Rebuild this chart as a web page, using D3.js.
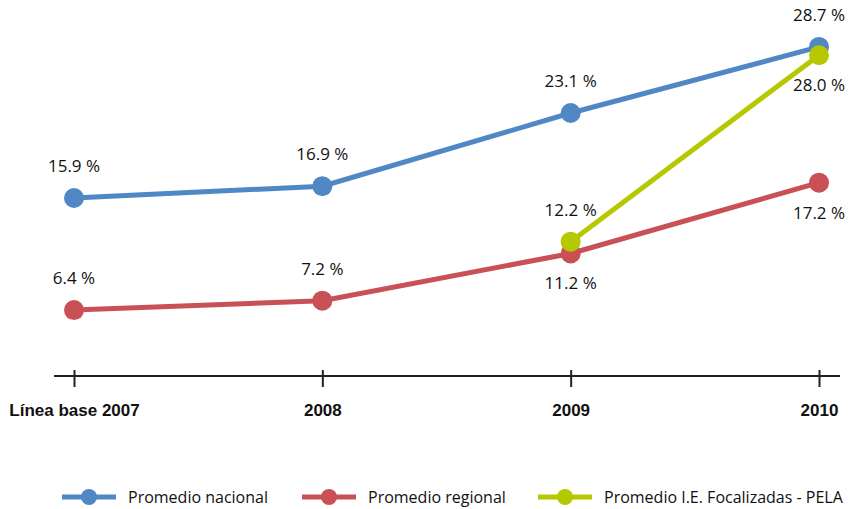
<!DOCTYPE html>
<html>
<head>
<meta charset="utf-8">
<script src="https://cdn.jsdelivr.net/npm/d3@7"></script>
<style>
  body { margin: 0; background: #fff; }
  svg { font-family: "Liberation Sans Narrow", "Open Sans", "Noto Sans", sans-serif; }
</style>
</head>
<body>
<svg id="chart" width="857" height="509"></svg>
<script>
// data
const categories = ["Línea base 2007", "2008", "2009", "2010"];
const nacional = [15.9, 16.9, 23.1, 28.7];
const regional = [6.4, 7.2, 11.2, 17.2];
const pela = [null, null, 12.2, 28.0];
const seriesNames = ["Promedio nacional", "Promedio regional", "Promedio I.E. Focalizadas - PELA"];

const colors = ["#5088c5", "#c95155", "#b5c800"];
// label above (-1) or below (+1) each point
const labelPos = [
  [-1, -1, -1, -1],
  [-1, -1, 1, 1],
  [0, 0, -1, 1]
];

const svg = d3.select("#chart");

const x = d3.scalePoint()
  .domain(categories)
  .range([74, 819]);

const y = d3.scaleLinear()
  .domain([0, 30])
  .range([385.6, 31.6]);

//Axis
const axisY = 376;
svg.append("line")
  .attr("x1", 54).attr("x2", 840)
  .attr("y1", axisY).attr("y2", axisY)
  .attr("stroke", "#222").attr("stroke-width", 2);

const axis = d3.axisBottom(x).tickSize(0).tickPadding(0);
const ax = svg.append("g").attr("transform", `translate(0,${axisY})`).call(axis);
ax.select(".domain").remove();
ax.selectAll(".tick line").remove();
ax.selectAll(".tick").append("line")
  .attr("y1", -6).attr("y2", 11)
  .attr("stroke", "#222").attr("stroke-width", 2);
ax.selectAll(".tick text")
  .attr("y", 40)
  .attr("dy", 0)
  .attr("font-size", "17px")
  .attr("font-weight", "bold")
  .attr("font-family", "inherit")
  .attr("fill", "#111");

//Lines
const allSeries = [nacional, regional, pela];
const line = d3.line()
  .defined(d => d.v != null)
  .x(d => x(d.c))
  .y(d => y(d.v));

allSeries.forEach((vals, i) => {
  const pts = vals.map((v, j) => ({ c: categories[j], v: v, pos: labelPos[i][j] }));
  const g = svg.append("g");
  g.append("path")
    .datum(pts)
    .attr("d", line)
    .attr("fill", "none")
    .attr("stroke", colors[i])
    .attr("stroke-width", 5);
  g.selectAll("circle")
    .data(pts.filter(d => d.v != null))
    .enter()
    .append("circle")
    .attr("cx", d => x(d.c))
    .attr("cy", d => y(d.v))
    .attr("r", 10)
    .attr("fill", colors[i]);
  g.selectAll("text")
    .data(pts.filter(d => d.v != null))
    .enter()
    .append("text")
    .attr("x", d => x(d.c))
    .attr("y", d => y(d.v) + (d.pos < 0 ? -26 : 36))
    .attr("text-anchor", "middle")
    .attr("font-size", "17px")
    .attr("fill", "#111")
    .text(d => `${d.v.toFixed(1)} %`);
});

//Legend
const legendX = [62, 302, 538];
const legendY = 497;
seriesNames.forEach((name, i) => {
  const lg = svg.append("g").attr("transform", `translate(${legendX[i]},${legendY})`);
  lg.append("line")
    .attr("x1", 0).attr("x2", 54)
    .attr("stroke", colors[i]).attr("stroke-width", 5);
  lg.append("circle").attr("cx", 27).attr("r", 8).attr("fill", colors[i]);
  lg.append("text")
    .attr("x", 66).attr("y", 6)
    .attr("font-size", "16px")
    .attr("fill", "#111")
    .text(name);
});
</script>
</body>
</html>
